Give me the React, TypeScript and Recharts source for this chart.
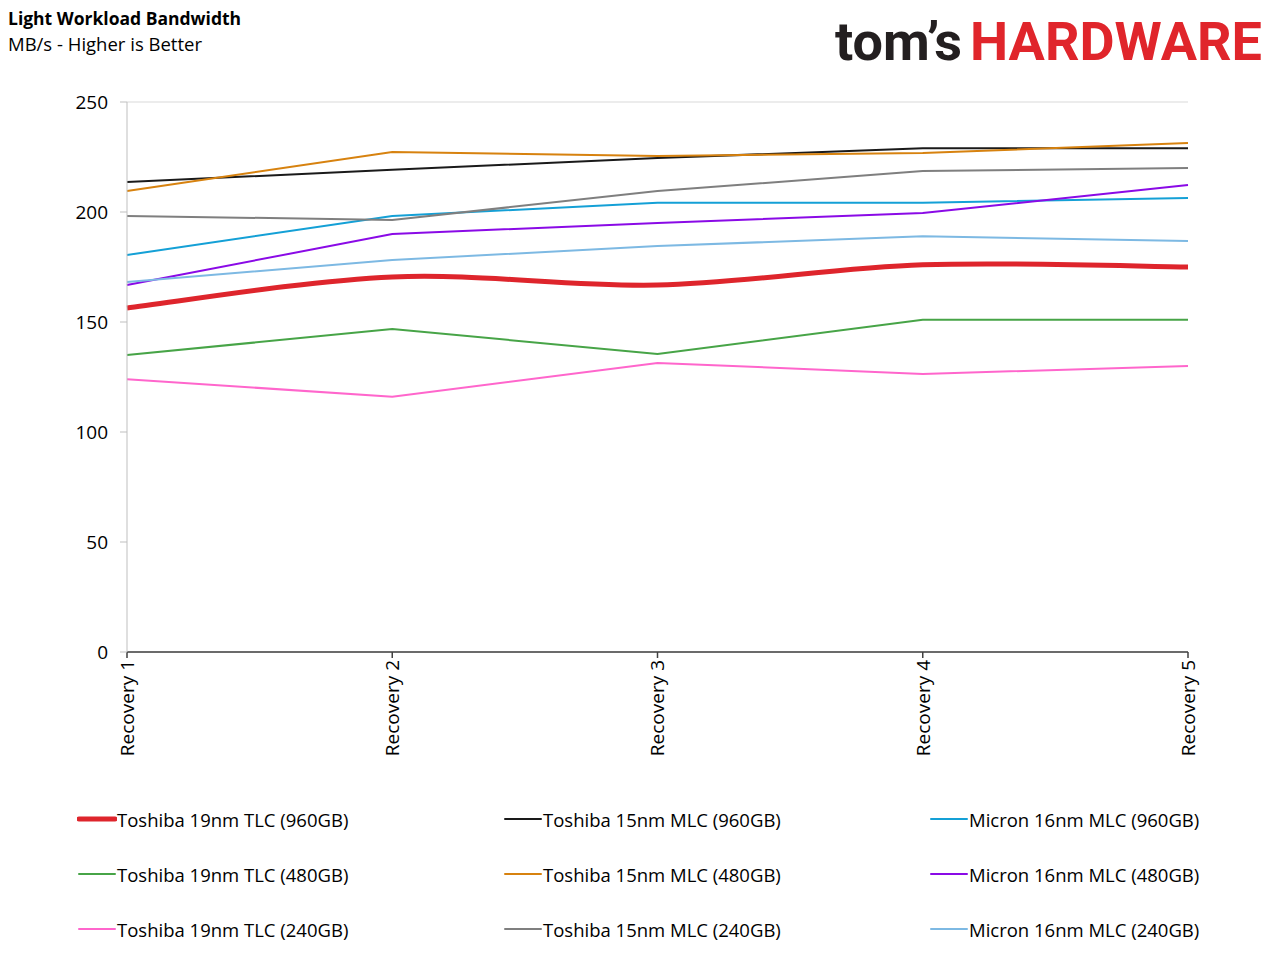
import React from 'react'
import { LineChart, Line, XAxis, YAxis, CartesianGrid } from 'recharts'

const CATEGORIES = ['Recovery 1', 'Recovery 2', 'Recovery 3', 'Recovery 4', 'Recovery 5']

const TOSHIBA_19_960 = [156.4, 170.5, 166.8, 176.0, 175.0]
const TOSHIBA_15_960 = [213.6, 219.2, 224.5, 229.0, 229.0]
const MICRON_16_960 = [180.5, 198.2, 204.2, 204.2, 206.4]
const TOSHIBA_19_480 = [135.0, 146.8, 135.5, 151.0, 151.0]
const TOSHIBA_15_480 = [209.5, 227.3, 225.5, 226.8, 231.4]
const MICRON_16_480 = [166.8, 190.0, 195.0, 199.5, 212.3]
const TOSHIBA_19_240 = [124.0, 116.0, 131.4, 126.4, 130.0]
const TOSHIBA_15_240 = [198.2, 196.4, 209.5, 218.6, 220.0]
const MICRON_16_240 = [168.2, 178.2, 184.5, 189.0, 186.8]

const Y_TICKS = [0, 50, 100, 150, 200, 250]
const Y_MINOR_TICKS = [0, 10, 20, 30, 40, 50, 60, 70, 80, 90, 100, 110, 120, 130, 140, 150, 160, 170, 180, 190, 200, 210, 220, 230, 240, 250]

const FONT = '"Open Sans", "Liberation Sans", sans-serif'

// Excel-style smoothed line (Catmull-Rom through every point)
const smoothCurve = (context: any) => {
  let pts: number[][] = []
  return {
    areaStart() {},
    areaEnd() {},
    lineStart() {
      pts = []
    },
    point(x: number, y: number) {
      pts.push([+x, +y])
    },
    lineEnd() {
      if (!pts.length) return
      context.moveTo(pts[0][0], pts[0][1])
      for (let i = 0; i < pts.length - 1; i++) {
        const p0 = pts[i - 1] || pts[i]
        const p1 = pts[i]
        const p2 = pts[i + 1]
        const p3 = pts[i + 2] || p2
        context.bezierCurveTo(
          p1[0] + (p2[0] - p0[0]) / 6,
          p1[1] + (p2[1] - p0[1]) / 6,
          p2[0] - (p3[0] - p1[0]) / 6,
          p2[1] - (p3[1] - p1[1]) / 6,
          p2[0],
          p2[1],
        )
      }
    },
  }
}

const SERIES = [
  { key: 't19_960', name: 'Toshiba 19nm TLC (960GB)', values: TOSHIBA_19_960, color: '#DE252C', width: 5, smooth: true },
  { key: 't15_960', name: 'Toshiba 15nm MLC (960GB)', values: TOSHIBA_15_960, color: '#1A1A1A', width: 2 },
  { key: 'm16_960', name: 'Micron 16nm MLC (960GB)', values: MICRON_16_960, color: '#14A0D6', width: 2 },
  { key: 't19_480', name: 'Toshiba 19nm TLC (480GB)', values: TOSHIBA_19_480, color: '#47A447', width: 2 },
  { key: 't15_480', name: 'Toshiba 15nm MLC (480GB)', values: TOSHIBA_15_480, color: '#D7820F', width: 2 },
  { key: 'm16_480', name: 'Micron 16nm MLC (480GB)', values: MICRON_16_480, color: '#8A0AE6', width: 2 },
  { key: 't19_240', name: 'Toshiba 19nm TLC (240GB)', values: TOSHIBA_19_240, color: '#FF66CC', width: 2 },
  { key: 't15_240', name: 'Toshiba 15nm MLC (240GB)', values: TOSHIBA_15_240, color: '#7F7F7F', width: 2 },
  { key: 'm16_240', name: 'Micron 16nm MLC (240GB)', values: MICRON_16_240, color: '#7DB9E3', width: 2 },
]

const data = CATEGORIES.map((cat, i) => {
  const row: Record<string, string | number> = { cat }
  SERIES.forEach((s) => {
    row[s.key] = s.values[i]
  })
  return row
})

function RotatedTick({ x, y, payload }: any) {
  return (
    <g transform={`translate(${x},${y}) rotate(-90)`}>
      <text x={0} y={0} dy="0.36em" textAnchor="end" fill="#000" fontSize={19} fontFamily={FONT}>
        {payload.value}
      </text>
    </g>
  )
}

function Logo() {
  return (
    <svg width={460} height={80} style={{ position: 'absolute', left: 820, top: 0 }}>
      <text x={15} y={60} fontFamily="Roboto, sans-serif" fontWeight={700} fontSize={54} fill="#231F20" textLength={127} lengthAdjust="spacingAndGlyphs">
        tom’s
      </text>
      <text x={150} y={60} fontFamily="Roboto, sans-serif" fontWeight={700} fontSize={54} fill="#E0252B" textLength={292} lengthAdjust="spacingAndGlyphs">
        HARDWARE
      </text>
    </svg>
  )
}

function LegendBlock() {
  return (
    <div style={{ position: 'absolute', left: 0, top: 800, width: 1280 }}>
      {SERIES.map((s, i) => {
        const col = i % 3
        const row = Math.floor(i / 3)
        return (
          <div
            key={s.key}
            style={{
              position: 'absolute',
              left: 77 + col * 426,
              top: row * 55,
              height: 38,
              display: 'flex',
              alignItems: 'center',
              whiteSpace: 'nowrap',
            }}
          >
            <svg width={40} height={10}>
              <line x1={2} y1={5} x2={38} y2={5} stroke={s.color} strokeWidth={s.width} strokeLinecap="round" />
            </svg>
            <span style={{ fontFamily: FONT, fontSize: 18.5, color: '#000' }}>{s.name}</span>
          </div>
        )
      })}
    </div>
  )
}

export default function App() {
  return (
    <div style={{ position: 'absolute', left: 0, top: 0, width: 1280, height: 959, background: '#fff', overflow: 'hidden' }}>
      <div style={{ position: 'absolute', left: 8, top: 6, fontFamily: FONT, fontWeight: 700, fontSize: 17.5, color: '#000' }}>
        Light Workload Bandwidth
      </div>
      <div style={{ position: 'absolute', left: 8, top: 31, fontFamily: FONT, fontSize: 18.5, color: '#000' }}>
        MB/s - Higher is Better
      </div>
      <Logo />
      <div style={{ position: 'absolute', left: 0, top: 0 }}>
        <LineChart width={1280} height={959} data={data} margin={{ top: 102, right: 92, bottom: 197, left: 67 }}>
          <CartesianGrid horizontal vertical={false} stroke="#D9D9D9" />
          <XAxis
            dataKey="cat"
            height={110}
            tick={<RotatedTick />}
            tickSize={6}
            tickMargin={2}
            interval={0}
            axisLine={{ stroke: '#404040', strokeWidth: 1.5 }}
            tickLine={{ stroke: '#404040', strokeWidth: 1.5 }}
          />
          <YAxis
            yAxisId="main"
            width={60}
            domain={[0, 250]}
            ticks={Y_TICKS}
            tickSize={7}
            tickMargin={12}
            axisLine={{ stroke: '#BFBFBF' }}
            tickLine={{ stroke: '#BFBFBF' }}
            tick={{ fill: '#000', fontSize: 19, fontFamily: FONT }}
          />
          <YAxis
            yAxisId="minor"
            width={0}
            mirror
            domain={[0, 250]}
            ticks={Y_MINOR_TICKS}
            tickSize={6}
            axisLine={false}
            tick={false}
            tickLine={{ stroke: '#D9D9D9' }}
          />
          <YAxis yAxisId="right" orientation="right" width={0} domain={[0, 250]} tick={false} tickLine={false} axisLine={{ stroke: '#D9D9D9' }} />
          {SERIES.map((s) => (
            <Line
              key={s.key}
              yAxisId="main"
              dataKey={s.key}
              name={s.name}
              type={s.smooth ? (smoothCurve as any) : 'linear'}
              stroke={s.color}
              strokeWidth={s.width}
              dot={false}
              activeDot={false}
              isAnimationActive={false}
            />
          ))}
        </LineChart>
      </div>
      <LegendBlock />
    </div>
  )
}
